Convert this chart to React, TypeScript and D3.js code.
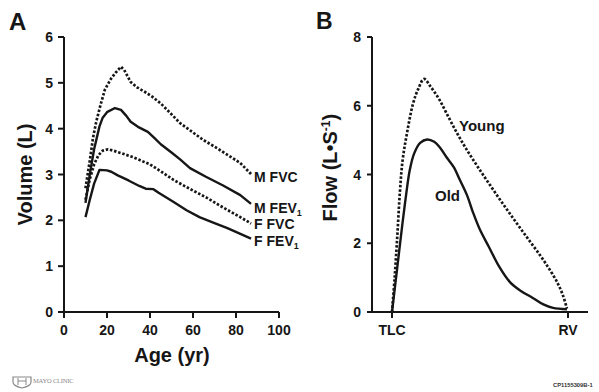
import React from 'react';
import * as d3 from 'd3';

// Panel A: age (yr) vs volume (L)
const mFvc: [number, number][] = [
  [10, 2.7], [12, 3.3], [13.5, 3.8], [15, 4.15], [17, 4.52], [19, 4.85], [22, 5.1], [24, 5.22],
  [26.5, 5.35], [28, 5.28], [31, 5.02], [34, 4.9], [37.7, 4.8], [41, 4.7], [45, 4.55], [48, 4.41],
  [54, 4.12], [59, 3.95], [64.6, 3.76], [72, 3.55], [82, 3.25], [87, 3.01],
];
const mFev1: [number, number][] = [
  [10, 2.38], [12, 3.0], [14, 3.55], [15, 3.75], [16.5, 4.05], [18, 4.24], [20, 4.36], [23.7, 4.45],
  [26.5, 4.41], [29, 4.28], [31, 4.15], [34.4, 4.04], [39, 3.93], [42, 3.8], [45, 3.66], [50, 3.48],
  [54, 3.33], [58.6, 3.14], [66, 2.95], [74, 2.76], [82, 2.55], [87, 2.36],
];
const fFvc: [number, number][] = [
  [10, 2.45], [12, 2.9], [14, 3.22], [16, 3.42], [18, 3.52], [20.5, 3.55], [23, 3.52], [27, 3.46],
  [32, 3.38], [35, 3.32], [40, 3.22], [45, 3.07], [51, 2.88], [58, 2.7], [66.5, 2.49], [74, 2.28],
  [82, 2.07], [87, 1.93],
];
const fFev1: [number, number][] = [
  [10, 2.07], [12, 2.45], [14, 2.8], [16.5, 3.1], [20, 3.09], [22, 3.06], [25, 2.98], [30, 2.87],
  [35, 2.75], [38, 2.69], [41.6, 2.68], [44, 2.6], [51, 2.4], [57, 2.22], [63, 2.07], [70, 1.94],
  [76, 1.83], [87, 1.6],
];
const ageTicks = [0, 20, 40, 60, 80, 100];
const volTicks = [0, 1, 2, 3, 4, 5, 6];

// Panel B: % of vital capacity from TLC vs flow (L/s)
const young: [number, number][] = [
  [0, 0], [1.5, 1.0], [3, 2.2], [4.5, 3.5], [6, 4.4], [8.5, 5.2], [12, 6.07], [15, 6.5], [18.2, 6.78],
  [22, 6.55], [27, 6.17], [32, 5.68], [37, 5.2], [42, 4.76], [48, 4.28], [54, 3.82], [60, 3.37],
  [66, 2.93], [72, 2.5], [78, 2.08], [84, 1.66], [89, 1.28], [94, 0.85], [97, 0.5], [99.4, 0.1],
];
const old: [number, number][] = [
  [0, 0], [3, 1.3], [6, 2.6], [8, 3.4], [10, 4.1], [12.5, 4.6], [16, 4.92], [20, 5.02], [24, 4.95],
  [27, 4.8], [31, 4.5], [35, 4.22], [38.6, 3.84], [42.6, 3.4], [46, 2.9], [50, 2.39], [55, 1.9],
  [61, 1.31], [67, 0.87], [73, 0.62], [80, 0.41], [86, 0.22], [91.5, 0.12], [99.4, 0.08],
];
const flowTicks = [0, 2, 4, 6, 8];
const volMarks: [number, string][] = [[0, 'TLC'], [100, 'RV']];

const FONT = 'Arial, "Liberation Sans", sans-serif';
const INK = '#161616';

const App: React.FC = () => {
  const xA = d3.scaleLinear().domain([0, 100]).range([64, 279]);
  const yA = d3.scaleLinear().domain([0, 6]).range([312, 37]);
  const xB = d3.scaleLinear().domain([-11.36, 111.36]).range([372, 588]);
  const yB = d3.scaleLinear().domain([0, 8]).range([312, 37]);

  const lineA = d3.line<[number, number]>().x(d => xA(d[0])).y(d => yA(d[1]));
  const lineB = d3.line<[number, number]>().x(d => xB(d[0])).y(d => yB(d[1])).curve(d3.curveCatmullRom);

  const dotted = { strokeDasharray: '2.5,1.8', strokeWidth: 2.7 };
  const solid = { strokeWidth: 2.4 };

  const seriesA = [
    { data: mFvc, style: dotted, name: 'M FVC', sub: '', dy: 8 },
    { data: mFev1, style: solid, name: 'M FEV', sub: '1', dy: 9 },
    { data: fFvc, style: dotted, name: 'F FVC', sub: '', dy: 5 },
    { data: fFev1, style: solid, name: 'F FEV', sub: '1', dy: 7 },
  ];

  return (
    <svg width={599} height={392} style={{ position: 'absolute', left: 0, top: 0, background: '#fff' }}
      fontFamily={FONT} fontWeight="bold" fill={INK}>
      {/* panel letters */}
      <text x={9} y={30} fontSize={24}>A</text>
      <text x={316} y={29} fontSize={23}>B</text>

      {/* Panel A axes */}
      <line x1={xA(0)} x2={xA(0)} y1={yA(6)} y2={yA(0)} stroke={INK} strokeWidth={2} />
      <line x1={xA(0)} x2={xA(100)} y1={yA(0)} y2={yA(0)} stroke={INK} strokeWidth={2} />
      {volTicks.map(t => (
        <g key={`vy${t}`}>
          <line x1={xA(0) - 6} x2={xA(0)} y1={yA(t)} y2={yA(t)} stroke={INK} strokeWidth={2} />
          <text x={53} y={yA(t)} dy="0.36em" textAnchor="end" fontSize={14}>{t}</text>
        </g>
      ))}
      {ageTicks.map(t => (
        <g key={`ax${t}`}>
          <line x1={xA(t)} x2={xA(t)} y1={yA(0)} y2={yA(0) + 6} stroke={INK} strokeWidth={2} />
          <text x={xA(t)} y={335} textAnchor="middle" fontSize={14}>{t}</text>
        </g>
      ))}
      <text x={172} y={362} textAnchor="middle" fontSize={20}>Age (yr)</text>
      <text transform={`translate(32,${yA(3)}) rotate(-90)`} textAnchor="middle" fontSize={20}>Volume (L)</text>

      {seriesA.map(s => {
        const last = s.data[s.data.length - 1];
        return (
          <g key={s.name}>
            <path d={lineA(s.data) || ''} fill="none" stroke={INK} strokeLinejoin="round" {...s.style} />
            <text x={xA(last[0]) + 3} y={yA(last[1]) + s.dy} fontSize={14}>
              {s.name}
              {s.sub && <tspan fontSize={9} dy={3}>{s.sub}</tspan>}
            </text>
          </g>
        );
      })}

      {/* Panel B axes */}
      <line x1={xB(-11.36)} x2={xB(-11.36)} y1={yB(8)} y2={yB(0)} stroke={INK} strokeWidth={2} />
      <line x1={xB(-11.36) - 5} x2={xB(111.36)} y1={yB(0)} y2={yB(0)} stroke={INK} strokeWidth={2} />
      {flowTicks.map(t => (
        <g key={`fy${t}`}>
          <line x1={xB(-11.36) - 5} x2={xB(-11.36)} y1={yB(t)} y2={yB(t)} stroke={INK} strokeWidth={2} />
          <text x={361} y={yB(t)} dy="0.36em" textAnchor="end" fontSize={14}>{t}</text>
        </g>
      ))}
      {volMarks.map(([v, label]) => (
        <g key={label}>
          <line x1={xB(v)} x2={xB(v)} y1={yB(0)} y2={yB(0) + 6} stroke={INK} strokeWidth={2} />
          <text x={xB(v)} y={335} textAnchor="middle" fontSize={14}>{label}</text>
        </g>
      ))}
      <text transform={`translate(337,${yB(4.2)}) rotate(-90)`} textAnchor="middle" fontSize={20}>
        Flow (L•S<tspan fontSize={12} dy={-7}>-1</tspan><tspan dy={7}>)</tspan>
      </text>

      <path d={lineB(young) || ''} fill="none" stroke={INK} {...dotted} />
      <path d={lineB(old) || ''} fill="none" stroke={INK} {...solid} />
      <text x={459} y={131} fontSize={15}>Young</text>
      <text x={435} y={201} fontSize={15}>Old</text>

      {/* footer marks */}
      <g fill="#888" stroke="none" fontWeight="normal">
        <path d="M13,377 h18 v5 q0,4 -9,6 q-9,-2 -9,-6 z" fill="none" stroke="#888" strokeWidth={1.2} />
        <path d="M18,378 v7 M26,378 v7 M18,381 h8" stroke="#888" strokeWidth={1} />
        <text x={33} y={383} fontSize={6.5} fontFamily="'Liberation Serif', serif" letterSpacing={-0.2}>MAYO CLINIC</text>
      </g>
      <text x={553} y={387} fontSize={5.8} fill="#333">CP1155309B-1</text>
    </svg>
  );
};

export default App;
